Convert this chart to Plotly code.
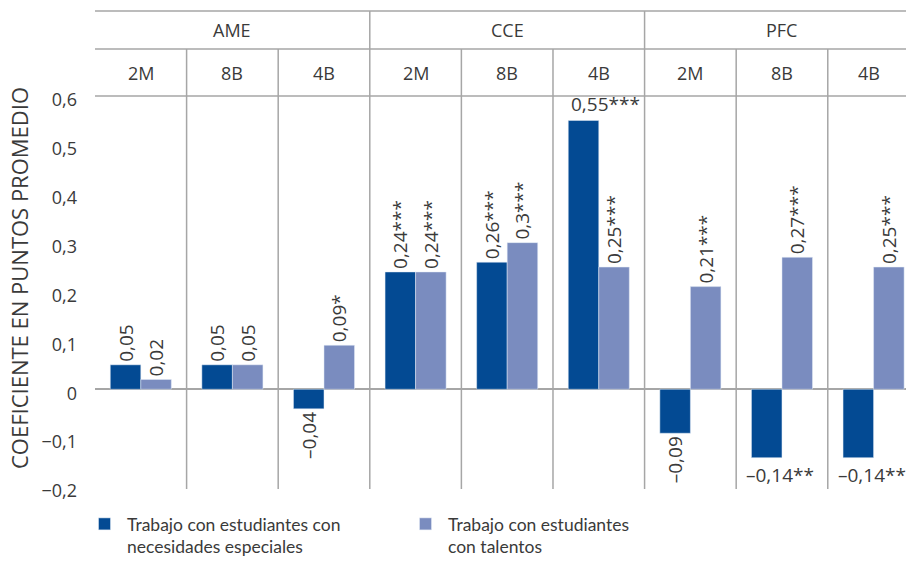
import plotly.graph_objects as go

# ---- data ----
groups = ["AME", "CCE", "PFC"]
subgroups = ["2M", "8B", "4B", "2M", "8B", "4B", "2M", "8B", "4B"]
series_names = ["Trabajo con estudiantes con<br>necesidades especiales",
                "Trabajo con estudiantes<br>con talentos"]
necesidades = [0.05, 0.05, -0.04, 0.24, 0.26, 0.55, -0.09, -0.14, -0.14]
talentos = [0.02, 0.05, 0.09, 0.24, 0.30, 0.25, 0.21, 0.27, 0.25]
labels_nec = ["0,05", "0,05", "–0,04", "0,24***", "0,26***", "0,55***", "–0,09", "–0,14**", "–0,14**"]
labels_tal = ["0,02", "0,05", "0,09*", "0,24***", "0,3***", "0,25***", "0,21***", "0,27***", "0,25***"]
horizontal_nec = [False, False, False, False, False, True, False, True, True]

# ---- style ----
DARK = "#034A93"
LIGHT = "#7A8CBF"
GRID = "#A6A6A6"
TXT = "#3A3A3A"
BARGAP = 1 / 3
W, H = 906, 561
ML, MR, MT, MB = 95, 0, 96, 74
plot_h = H - MT - MB
plot_w = W - ML - MR

def py(px_from_top):
    """paper y for a pixel row"""
    return (H - MB - px_from_top) / plot_h

def px(px_from_left):
    return (px_from_left - ML) / plot_w

x = list(range(len(subgroups)))
LBL = dict(family="Open Sans", size=19, color=TXT)

fig = go.Figure()
fig.add_trace(go.Bar(
    x=x, y=necesidades, name=series_names[0], marker_color=DARK,
    text=[("" if h else t) for t, h in zip(labels_nec, horizontal_nec)],
    textposition="outside", textangle=-90, cliponaxis=False, constraintext="none",
    textfont=LBL))
fig.add_trace(go.Bar(
    x=x, y=talentos, name=series_names[1], marker_color=LIGHT,
    text=labels_tal,
    textposition="outside", textangle=-90, cliponaxis=False, constraintext="none",
    textfont=LBL))

annotations = []
# horizontal data labels
half = (1 - BARGAP) / 2
for i, (v, t, h) in enumerate(zip(necesidades, labels_nec, horizontal_nec)):
    if h:
        annotations.append(dict(
            x=i - half, y=v, xref="x", yref="y", text=t, showarrow=False,
            xanchor="left", yanchor="bottom" if v > 0 else "top",
            yshift=1 if v > 0 else -2, xshift=-7 if v < 0 else 1,
            font=LBL))

# header
y_top = py(11)
y_mid = py(49)
HDR = dict(family="Open Sans", size=18, color=TXT)
for gi, g in enumerate(groups):
    annotations.append(dict(x=gi * 3 + 1, y=(y_top + y_mid) / 2, xref="x", yref="paper",
                            text=g, showarrow=False, xanchor="center", yanchor="middle",
                            font=HDR))
for i, s in enumerate(subgroups):
    annotations.append(dict(x=i, y=(y_mid + 1) / 2, xref="x", yref="paper",
                            text=s, showarrow=False, xanchor="center", yanchor="middle",
                            xshift=-5 if i == len(subgroups) - 1 else 0,
                            font=HDR))

# axis title
annotations.append(dict(x=px(19), y=py(278), xref="paper", yref="paper",
                        text="COEFICIENTE EN PUNTOS PROMEDIO", textangle=-90, showarrow=False,
                        xanchor="center", yanchor="middle",
                        font=dict(family="Open Sans", size=22, color=TXT)))

shapes = []
line = dict(color=GRID, width=1.5)
# horizontal header lines + 0.6 line
for yy in (y_top, y_mid, 1):
    shapes.append(dict(type="line", xref="paper", yref="paper", x0=0, x1=1, y0=yy, y1=yy, line=line))
# vertical separators
for i in range(len(subgroups) - 1):
    top = y_top if (i + 1) % 3 == 0 else y_mid
    shapes.append(dict(type="line", xref="x", yref="paper", x0=i + 0.5, x1=i + 0.5,
                       y0=py(489), y1=top, line=line))

fig.update_layout(
    width=W, height=H,
    margin=dict(l=ML, r=MR, t=MT, b=MB, autoexpand=False),
    paper_bgcolor="white", plot_bgcolor="white",
    barmode="group", bargap=BARGAP, bargroupgap=0,
    separators=",.",
    font=dict(family="Open Sans", size=18, color=TXT),
    xaxis=dict(range=[-0.5, 8.354], showticklabels=False, showgrid=False,
               zeroline=False, showline=False, fixedrange=True, automargin=False),
    yaxis=dict(range=[-0.2, 0.6], dtick=0.1, tick0=0, showgrid=False,
               zeroline=True, zerolinecolor=GRID, zerolinewidth=1.5, automargin=False,
               showline=False, ticks="", ticklabelstandoff=17, ticklabelshift=4,
               tickfont=dict(family="Open Sans", size=18, color=TXT)),
    showlegend=True,
    legend=dict(orientation="h", x=px(82), y=py(506), xanchor="left", yanchor="top",
                itemwidth=35, entrywidth=271, entrywidthmode="pixels", valign="top",
                font=dict(family="Lato", size=17.5, color=TXT), traceorder="normal"),
    annotations=annotations, shapes=shapes,
)

fig.write_html("out.html", config={"displayModeBar": False},
               post_script="document.body.style.margin='0';document.body.style.overflow='hidden';")
